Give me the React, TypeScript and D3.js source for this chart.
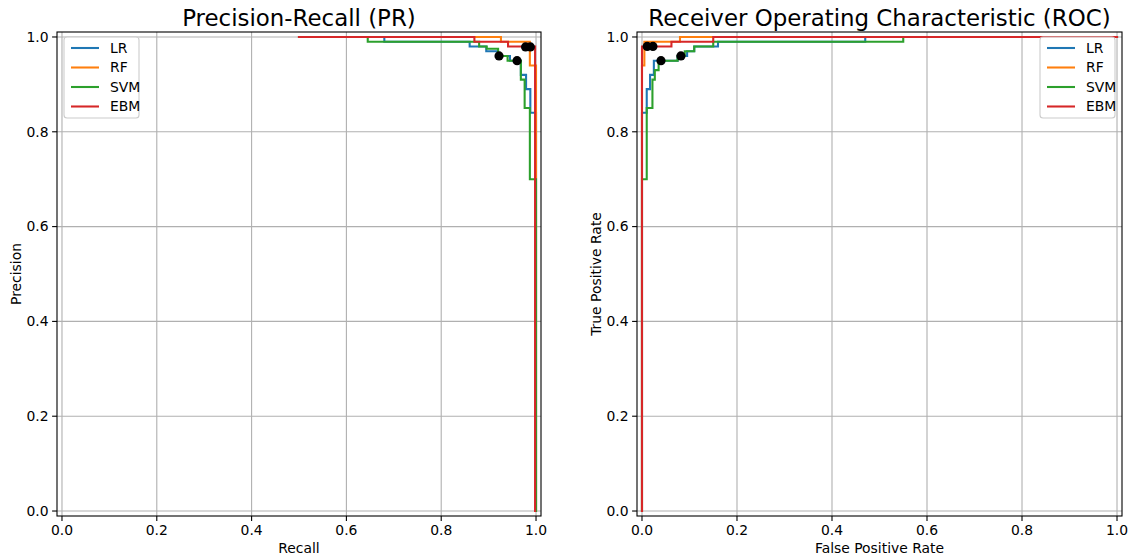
import React, { useEffect, useRef } from "react";
import * as d3 from "d3";

const seriesNames = ["LR", "RF", "SVM", "EBM"];
const seriesColors = ["#1f77b4", "#ff7f0e", "#2ca02c", "#d62728"];
const ticks = [0, 0.2, 0.4, 0.6, 0.8, 1.0];

// Precision-Recall step points: [recall, precision]
const prLR: [number, number][] = [[0.5, 1.0], [0.68, 0.99], [0.86, 0.98], [0.895, 0.97], [0.92, 0.96], [0.945, 0.95], [0.968, 0.92], [0.979, 0.89], [0.988, 0.84], [1.0, 0.0]];
const prRF: [number, number][] = [[0.5, 1.0], [0.926, 0.99], [0.987, 0.94], [1.0, 0.0]];
const prSVM: [number, number][] = [[0.5, 1.0], [0.645, 0.99], [0.88, 0.98], [0.896, 0.975], [0.92, 0.96], [0.94, 0.95], [0.968, 0.91], [0.976, 0.85], [0.987, 0.70], [1.0, 0.0]];
const prEBM: [number, number][] = [[0.5, 1.0], [0.87, 0.99], [0.941, 0.98], [0.998, 0.0]];

// ROC step points: [fpr, tpr]
const rocLR: [number, number][] = [[0, 0], [0, 0.84], [0.01, 0.89], [0.017, 0.92], [0.025, 0.95], [0.075, 0.96], [0.095, 0.97], [0.11, 0.98], [0.16, 0.99], [0.47, 1.0], [1.0, 1.0]];
const rocRF: [number, number][] = [[0, 0], [0, 0.94], [0.005, 0.99], [0.08, 1.0], [1.0, 1.0]];
const rocSVM: [number, number][] = [[0, 0], [0, 0.70], [0.01, 0.85], [0.022, 0.91], [0.027, 0.93], [0.035, 0.95], [0.075, 0.96], [0.09, 0.97], [0.11, 0.98], [0.15, 0.99], [0.55, 1.0], [1.0, 1.0]];
const rocEBM: [number, number][] = [[0, 0], [0, 0.98], [0.062, 0.99], [0.15, 1.0], [1.0, 1.0]];

// Operating-point markers
const prDots: [number, number][] = [[0.922, 0.96], [0.96, 0.95], [0.978, 0.979], [0.988, 0.979]];
const rocDots: [number, number][] = [[0.011, 0.98], [0.023, 0.98], [0.04, 0.95], [0.082, 0.96]];

const FONT = "DejaVu Sans, sans-serif";

export default function App() {
  const ref = useRef<SVGSVGElement>(null);

  useEffect(() => {
    const svg = d3.select(ref.current);
    svg.selectAll("*").remove();

    const panels = [
      {
        left: 57, right: 541, title: "Precision-Recall (PR)", xlabel: "Recall", ylabel: "Precision",
        data: [prLR, prRF, prSVM, prEBM], dots: prDots, legend: "left",
      },
      {
        left: 637, right: 1122, title: "Receiver Operating Characteristic (ROC)", xlabel: "False Positive Rate", ylabel: "True Positive Rate",
        data: [rocLR, rocRF, rocSVM, rocEBM], dots: rocDots, legend: "right",
      },
    ];
    const top = 32, bottom = 516;

    panels.forEach((p) => {
      const x = d3.scaleLinear().domain([-0.0105, 1.0105]).range([p.left, p.right]);
      const y = d3.scaleLinear().domain([-0.0105, 1.0105]).range([bottom, top]);
      const g = svg.append("g");

      // grid
      ticks.forEach((t) => {
        g.append("line").attr("x1", x(t)).attr("x2", x(t)).attr("y1", top).attr("y2", bottom)
          .attr("stroke", "#b0b0b0").attr("stroke-width", 1.1);
        g.append("line").attr("x1", p.left).attr("x2", p.right).attr("y1", y(t)).attr("y2", y(t))
          .attr("stroke", "#b0b0b0").attr("stroke-width", 1.1);
      });

      // lines
      const line = d3.line<[number, number]>().x((d) => x(d[0])).y((d) => y(d[1])).curve(d3.curveStepAfter);
      const clipId = "clip" + p.left;
      svg.append("clipPath").attr("id", clipId).append("rect")
        .attr("x", p.left).attr("y", top).attr("width", p.right - p.left).attr("height", bottom - top);
      const lg = g.append("g").attr("clip-path", `url(#${clipId})`);
      p.data.forEach((d, i) => {
        lg.append("path").attr("d", line(d) as string).attr("fill", "none")
          .attr("stroke", seriesColors[i]).attr("stroke-width", 2.08).attr("stroke-linejoin", "miter").attr("stroke-linecap", "square");
      });
      p.dots.forEach((d) => {
        lg.append("circle").attr("cx", x(d[0])).attr("cy", y(d[1])).attr("r", 4.6).attr("fill", "black");
      });

      // spines
      g.append("rect").attr("x", p.left).attr("y", top).attr("width", p.right - p.left).attr("height", bottom - top)
        .attr("fill", "none").attr("stroke", "black").attr("stroke-width", 1.1);

      // ticks
      ticks.forEach((t) => {
        g.append("line").attr("x1", x(t)).attr("x2", x(t)).attr("y1", bottom).attr("y2", bottom + 4.9)
          .attr("stroke", "black").attr("stroke-width", 1.1);
        g.append("text").attr("x", x(t)).attr("y", bottom + 18.5).attr("text-anchor", "middle")
          .attr("font-family", FONT).attr("font-size", 13.9).attr("fill", "black").text(t.toFixed(1));
        g.append("line").attr("x1", p.left - 4.9).attr("x2", p.left).attr("y1", y(t)).attr("y2", y(t))
          .attr("stroke", "black").attr("stroke-width", 1.1);
        g.append("text").attr("x", p.left - 8.5).attr("y", y(t)).attr("dy", "0.35em").attr("text-anchor", "end")
          .attr("font-family", FONT).attr("font-size", 13.9).attr("fill", "black").text(t.toFixed(1));
      });

      // labels
      g.append("text").attr("x", (p.left + p.right) / 2).attr("y", 553).attr("text-anchor", "middle")
        .attr("font-family", FONT).attr("font-size", 13.9).text(p.xlabel);
      g.append("text").attr("transform", `translate(${p.left - 36},${(top + bottom) / 2}) rotate(-90)`)
        .attr("text-anchor", "middle").attr("font-family", FONT).attr("font-size", 13.9).text(p.ylabel);
      g.append("text").attr("x", (p.left + p.right) / 2).attr("y", 26).attr("text-anchor", "middle")
        .attr("font-family", FONT).attr("font-size", 22.9).text(p.title);

      // legend
      const lw = 75, lh = 81;
      const lx = p.legend === "left" ? p.left + 7 : p.right - 7 - lw;
      const ly = top + 5;
      const leg = g.append("g");
      leg.append("rect").attr("x", lx).attr("y", ly).attr("width", lw).attr("height", lh).attr("rx", 3)
        .attr("fill", "white").attr("fill-opacity", 0.8).attr("stroke", "#cccccc").attr("stroke-width", 1.1);
      seriesNames.forEach((n, i) => {
        const yy = ly + 11 + i * 19.5;
        leg.append("line").attr("x1", lx + 7).attr("x2", lx + 35).attr("y1", yy).attr("y2", yy)
          .attr("stroke", seriesColors[i]).attr("stroke-width", 2.08);
        leg.append("text").attr("x", lx + 46).attr("y", yy).attr("dy", "0.35em")
          .attr("font-family", FONT).attr("font-size", 13.9).text(n);
      });
    });
  }, []);

  return (
    <svg ref={ref} width={1129} height={559} style={{ position: "absolute", left: 0, top: 0, background: "white" }} />
  );
}
